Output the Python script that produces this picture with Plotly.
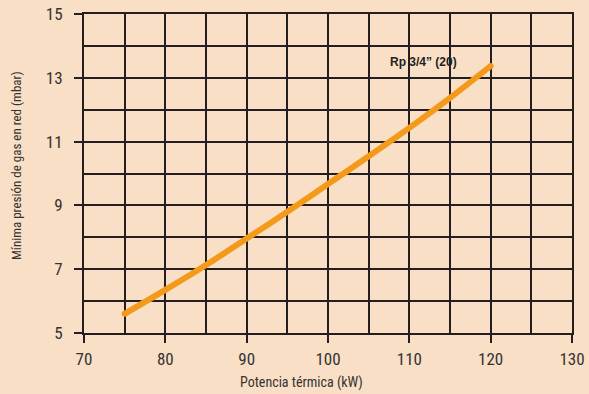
import plotly.graph_objects as go

potencia_kw = [75, 80, 85, 90, 95, 100, 105, 110, 115, 120]
presion_mbar = [5.6, 6.35, 7.13, 7.96, 8.8, 9.67, 10.54, 11.43, 12.37, 13.37]
x_ticks = [70, 80, 90, 100, 110, 120, 130]
y_ticks = [5, 7, 9, 11, 13, 15]
serie_label = "Rp 3/4\u201d (20)"
label_pos = (111.8, 13.5)

BG = "#F9DFC5"
INK = "#231F20"
ORANGE = "#F39A1B"
FONT = "Liberation Sans Narrow, Roboto Condensed, Arial Narrow, sans-serif"

W, H = 589, 394
ML, MR, MT, MB = 84, 17, 14, 61
PW, PH = W - ML - MR, H - MT - MB

fig = go.Figure()
fig.add_trace(go.Scatter(
    x=potencia_kw, y=presion_mbar, mode="lines",
    line=dict(color=ORANGE, width=6, shape="spline", smoothing=0.8),
    hoverinfo="skip", showlegend=False,
))
fig.add_trace(go.Scatter(
    x=[potencia_kw[0], potencia_kw[-1]], y=[presion_mbar[0], presion_mbar[-1]],
    mode="markers", marker=dict(color=ORANGE, size=6, line=dict(width=0)),
    hoverinfo="skip", showlegend=False,
))

fig.add_annotation(x=label_pos[0], y=label_pos[1], text="<b>%s</b>" % serie_label,
                   showarrow=False, font=dict(family="Liberation Sans, Arial, sans-serif",
                                              size=12, color=INK))
fig.add_annotation(x=(301 - ML) / PW, y=-(382 - (H - MB)) / PH, xref="paper", yref="paper",
                   xanchor="center", yanchor="middle",
                   text="Potencia térmica (kW)", showarrow=False,
                   font=dict(family=FONT, size=14, color="#333"))
fig.add_annotation(x=(16 - ML) / PW, y=(H - MB - 166) / PH, xref="paper", yref="paper",
                   xanchor="center", yanchor="middle",
                   text="Mínima presión de gas en red (mbar)", showarrow=False, textangle=-90,
                   font=dict(family=FONT, size=13, color="#333"))

axis_common = dict(
    showline=True, mirror=True, linecolor=INK, linewidth=2,
    showgrid=True, gridcolor=INK, gridwidth=2,
    ticks="outside", ticklen=8, tickwidth=2, tickcolor=INK,
    tickfont=dict(family=FONT, size=17, color="#333"),
    zeroline=False, fixedrange=True, automargin=False,
)
fig.update_xaxes(range=[70, 130], tickvals=x_ticks, ticklabelstandoff=2,
                 minor=dict(dtick=5, tick0=70, showgrid=True, gridcolor=INK, gridwidth=2, ticks=""),
                 **axis_common)
fig.update_yaxes(range=[5, 15], tickvals=y_ticks, ticklabelstandoff=8,
                 minor=dict(dtick=1, tick0=5, showgrid=True, gridcolor=INK, gridwidth=2, ticks=""),
                 **axis_common)

fig.update_layout(
    width=W, height=H,
    margin=dict(l=ML, r=MR, t=MT, b=MB, autoexpand=False),
    paper_bgcolor=BG, plot_bgcolor=BG,
    showlegend=False,
)

fig.write_html("out.html", config={"displayModeBar": False},
               post_script="document.body.style.margin='0';document.body.style.background='%s';" % BG)
